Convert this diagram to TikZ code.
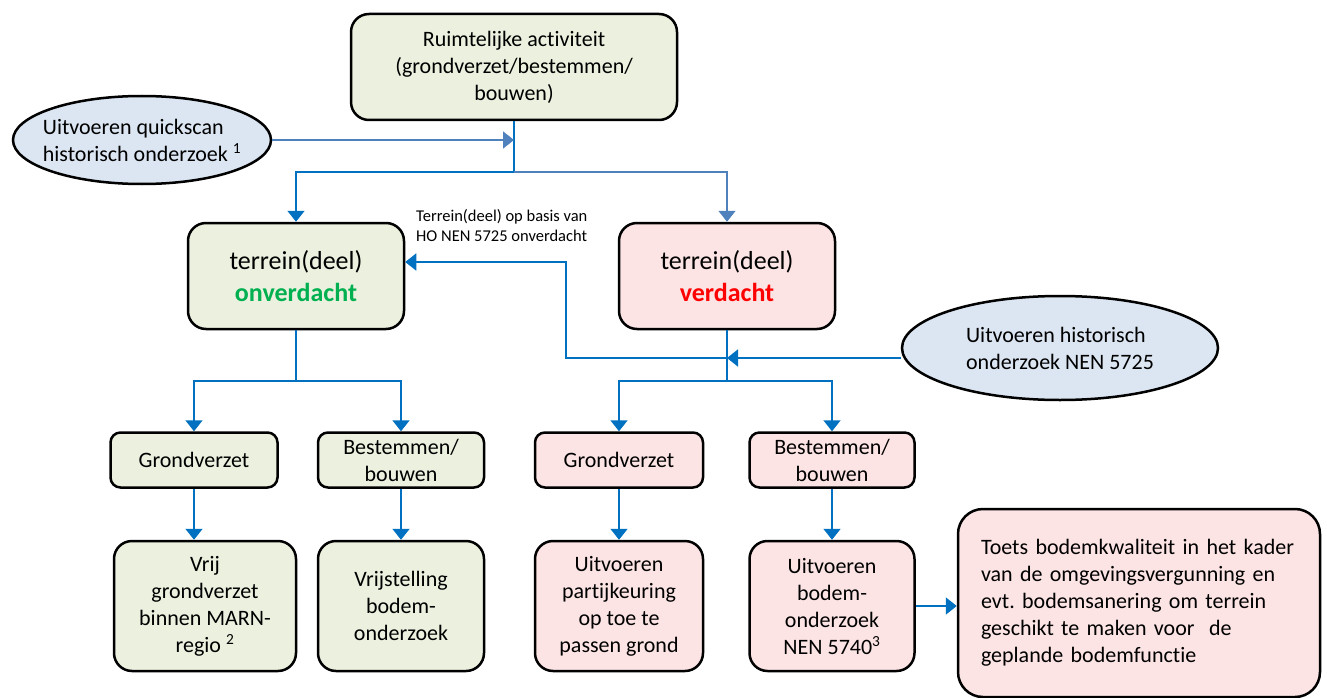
\documentclass[tikz,border=0pt]{standalone}
\usepackage{fontspec}
\setmainfont{Carlito}[Ligatures=NoCommon]
\usetikzlibrary{arrows.meta,shapes.geometric}
\definecolor{gfill}{HTML}{EBF1DE}
\definecolor{pfill}{HTML}{FCE4E4}
\definecolor{bfill}{HTML}{DCE6F2}
\definecolor{darr}{HTML}{0070C0}
\definecolor{larr}{HTML}{4F81BD}
\definecolor{ogreen}{HTML}{00B050}
\frenchspacing
\begin{document}
\begin{tikzpicture}[x=1pt,y=-1pt,
  base/.style={draw=black,line width=2.5pt,align=center,inner sep=0pt,font=\fontsize{22}{27}\selectfont},
  gbox/.style={base,fill=gfill},
  pbox/.style={base,fill=pfill},
  bigr/.style={rounded corners=18pt},
  smallr/.style={rounded corners=10pt},
  oval/.style={base,ellipse,fill=bfill,align=left},
  conn/.style={draw=darr,line width=1.8pt},
  lconn/.style={draw=larr,line width=1.8pt},
  tip/.style={-{Triangle[length=11pt,width=17pt]}},
]
\useasboundingbox (0,0) rectangle (1327,698);

% top
\node[gbox,bigr,minimum width=326,minimum height=106] (top) at (514,67)
  {Ruimtelijke activiteit\\(grondverzet/bestemmen/\\bouwen)};
\node[oval,inner xsep=-20pt,minimum width=258,minimum height=88] (qs) at (142,140)
  {Uitvoeren quickscan\\historisch onderzoek \textsuperscript{1}};

% second level
\node[gbox,bigr,minimum width=216,minimum height=106,font=\fontsize{26}{31.5}\selectfont] (onv) at (296,276)
  {terrein(deel)\\\textcolor{ogreen}{\textbf{onverdacht}}};
\node[pbox,bigr,minimum width=216,minimum height=106,font=\fontsize{26}{31.5}\selectfont] (ver) at (727,276)
  {terrein(deel)\\\textcolor{red}{\textbf{verdacht}}};
\node[font=\fontsize{16.5}{20}\selectfont,align=left,anchor=west,inner sep=0pt] (lbl) at (416,226)
  {Terrein(deel) op basis van\\HO NEN 5725 onverdacht};
\node[oval,minimum width=316,minimum height=104] (hist) at (1060,348)
  {Uitvoeren historisch\\onderzoek NEN 5725};

% third level
\node[gbox,smallr,minimum width=167,minimum height=55] (g1) at (194,460) {Grondverzet};
\node[gbox,smallr,minimum width=166,minimum height=55] (b1) at (401,460) {Bestemmen/\\bouwen};
\node[pbox,smallr,minimum width=168,minimum height=55] (g2) at (619,460) {Grondverzet};
\node[pbox,smallr,minimum width=165,minimum height=55] (b2) at (832,460) {Bestemmen/\\bouwen};

% bottom level
\node[gbox,bigr,minimum width=182,minimum height=130] (v1) at (205,606)
  {Vrij\\grondverzet\\binnen MARN-\\regio \textsuperscript{2}};
\node[gbox,bigr,minimum width=166,minimum height=130] (v2) at (401,606)
  {Vrijstelling\\bodem-\\onderzoek};
\node[pbox,bigr,minimum width=168,minimum height=130] (p1) at (619,606)
  {Uitvoeren\\partijkeuring\\op toe te\\passen grond};
\node[pbox,bigr,minimum width=165,minimum height=130] (p2) at (832,606)
  {Uitvoeren\\bodem-\\onderzoek\\NEN 5740\textsuperscript{3}};
\node[pbox,rounded corners=25pt,minimum width=362,minimum height=188,align=left,text width=316] (toets) at (1139,603)
  {Toets bodemkwaliteit in het kader\\van de omgevingsvergunning en\\evt. bodemsanering om terrein\\geschikt te maken voor\ \ de\\geplande bodemfunctie};

% connectors
\coordinate (j1) at (514,172);
\coordinate (jq) at (514,140);
\coordinate (h1) at (727,358);
\coordinate (h2) at (566,358);
\coordinate (h3) at (566,262);
\coordinate (k1) at (296,381);
\coordinate (k2) at (727,381);

\draw[conn] (top.south) -- (j1);
\draw[conn,tip] (j1) -| (onv.north);
\draw[lconn,tip] (j1) -| (ver.north);
\draw[lconn,tip] (qs.east |- jq) -- (jq);

\draw[conn,tip] (hist.west |- h1) -- (h1);
\draw[conn,tip] (h1) -- (h2) -- (h3) -- (onv.east |- h3);

\draw[conn] (onv.south) -- (k1);
\draw[conn,tip] (k1) -| (g1.north);
\draw[conn,tip] (k1) -| (b1.north);
\draw[conn] (ver.south) -- (k2);
\draw[conn,tip] (k2) -| (g2.north);
\draw[conn,tip] (k2) -| (b2.north);

\draw[conn,tip] (g1.south) -- (g1.south |- v1.north);
\draw[conn,tip] (b1.south) -- (b1.south |- v2.north);
\draw[conn,tip] (g2.south) -- (g2.south |- p1.north);
\draw[conn,tip] (b2.south) -- (b2.south |- p2.north);
\draw[conn,tip] (p2.east) -- (p2.east -| toets.west);
\end{tikzpicture}
\end{document}
